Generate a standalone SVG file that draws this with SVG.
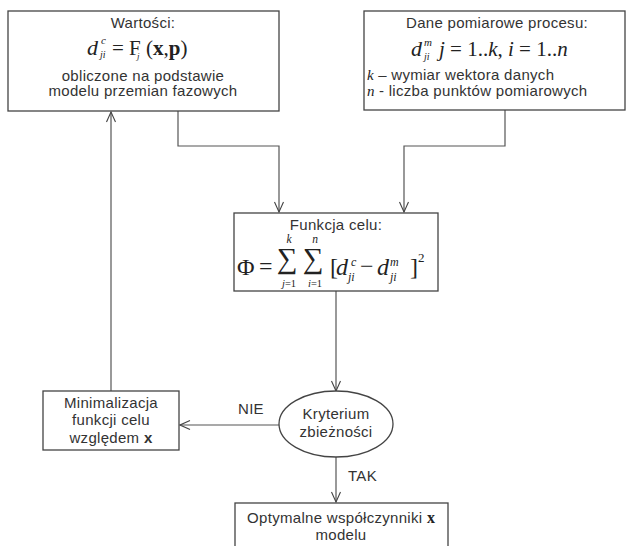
<svg xmlns="http://www.w3.org/2000/svg" width="629" height="546" viewBox="0 0 629 546">
<defs>
<marker id="ah" viewBox="0 0 12 12" refX="11" refY="6" markerWidth="12" markerHeight="12" markerUnits="userSpaceOnUse" orient="auto">
<path d="M1,1.5 L11,6 L1,10.5" fill="none" stroke="#444" stroke-width="1.1"/>
</marker>
<style>
.box{fill:#fff;stroke:#444;stroke-width:1.3}
.ln{fill:none;stroke:#555;stroke-width:1.2}
.s{font-family:"Liberation Sans",Arial,sans-serif;font-size:15px;letter-spacing:0.3px;fill:#333}
.m{font-family:"Liberation Serif","Times New Roman",serif;fill:#222;letter-spacing:0}
.i{font-style:italic}
</style>
</defs>
<rect width="629" height="546" fill="#fff"/>
<g id="connectors">
<polyline class="ln" points="178,111 178,146 279,146 279,212" marker-end="url(#ah)"/>
<polyline class="ln" points="505,110 505,146 404,146 404,212" marker-end="url(#ah)"/>
<line class="ln" x1="336" y1="291" x2="336" y2="391" marker-end="url(#ah)"/>
<line class="ln" x1="279" y1="425" x2="180" y2="425" marker-end="url(#ah)"/>
<line class="ln" x1="111" y1="391" x2="111" y2="112" marker-end="url(#ah)"/>
<line class="ln" x1="336" y1="457" x2="336" y2="502" marker-end="url(#ah)"/>
<text class="s" x="238" y="414">NIE</text>
<text class="s" x="348" y="481">TAK</text>
</g>
<g id="wartosci">
<rect class="box" x="8" y="11" width="271" height="100"/>
<text class="s" x="143" y="28" text-anchor="middle">Wartości:</text>
<text class="m i" x="87" y="55" font-size="22">d</text>
<text class="m i" x="101" y="44" font-size="11">c</text>
<text class="m i" x="100" y="58" font-size="10">ji</text>
<text class="m" x="112" y="55" font-size="21">= F</text>
<text class="m i" x="137" y="59" font-size="9">j</text>
<text class="m" x="146" y="55" font-size="21">(<tspan font-weight="bold">x</tspan>,<tspan font-weight="bold">p</tspan>)</text>
<text class="s" x="143" y="81" text-anchor="middle">obliczone na podstawie</text>
<text class="s" x="143" y="96" text-anchor="middle">modelu przemian fazowych</text>
</g>
<g id="dane">
<rect class="box" x="364" y="11" width="261" height="99"/>
<text class="s" x="497" y="28" text-anchor="middle">Dane pomiarowe procesu:</text>
<text class="m i" x="411" y="56" font-size="22">d</text>
<text class="m i" x="424" y="46" font-size="11">m</text>
<text class="m i" x="424" y="60" font-size="10">ji</text>
<text class="m" x="439" y="56" font-size="21"><tspan class="i">j</tspan> = 1..<tspan class="i">k</tspan>, <tspan class="i">i</tspan> = 1..<tspan class="i">n</tspan></text>
<text class="s" x="367" y="80"><tspan class="m i" font-size="15">k</tspan> – wymiar wektora danych</text>
<text class="s" x="367" y="96"><tspan class="m i" font-size="15">n</tspan> - liczba punktów pomiarowych</text>
</g>
<g id="funkcja">
<rect class="box" x="234" y="213" width="204" height="78"/>
<text class="s" x="336" y="230" text-anchor="middle">Funkcja celu:</text>
<text class="m" x="237" y="275" font-size="24">Φ</text>
<text class="m" x="259" y="274" font-size="24">=</text>
<text class="m" x="277" y="268" font-size="29">∑</text>
<text class="m" x="303" y="268" font-size="29">∑</text>
<text class="m i" x="289" y="243" font-size="11.5" text-anchor="middle">k</text>
<text class="m i" x="315" y="243" font-size="11.5" text-anchor="middle">n</text>
<text class="m" x="289" y="287" font-size="10.5" text-anchor="middle"><tspan class="i">j</tspan>=1</text>
<text class="m" x="315" y="287" font-size="10.5" text-anchor="middle"><tspan class="i">i</tspan>=1</text>
<text class="m" x="330" y="275" font-size="24">[</text>
<text class="m i" x="336" y="275" font-size="24">d</text>
<text class="m i" x="351" y="266" font-size="12">c</text>
<text class="m i" x="348" y="281" font-size="12">ji</text>
<text class="m" x="360" y="274" font-size="24">−</text>
<text class="m i" x="377" y="275" font-size="24">d</text>
<text class="m i" x="390" y="266" font-size="12">m</text>
<text class="m i" x="390" y="281" font-size="12">ji</text>
<text class="m" x="410" y="275" font-size="24">]</text>
<text class="m" x="418" y="262" font-size="13">2</text>
</g>
<g id="kryterium">
<ellipse cx="336" cy="424" rx="57" ry="33" fill="#fff" stroke="#444" stroke-width="1.3"/>
<text class="s" x="336" y="419" text-anchor="middle">Kryterium</text>
<text class="s" x="336" y="437" text-anchor="middle">zbieżności</text>
</g>
<g id="minimalizacja">
<rect class="box" x="43" y="391" width="136" height="59"/>
<text class="s" x="111" y="408" text-anchor="middle">Minimalizacja</text>
<text class="s" x="111" y="425" text-anchor="middle">funkcji celu</text>
<text class="s" x="111" y="443" text-anchor="middle">względem <tspan font-weight="bold">x</tspan></text>
</g>
<g id="optymalne">
<rect class="box" x="235" y="503" width="213" height="60"/>
<text class="s" x="341" y="523" text-anchor="middle">Optymalne współczynniki <tspan class="m" font-weight="bold" font-size="16">x</tspan></text>
<text class="s" x="341" y="540" text-anchor="middle">modelu</text>
</g>
</svg>
